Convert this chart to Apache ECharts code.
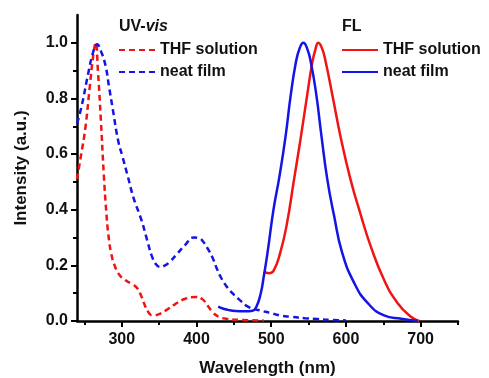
<!DOCTYPE html>
<html>
<head>
<meta charset="utf-8">
<script src="https://cdn.jsdelivr.net/npm/echarts@6/dist/echarts.min.js"></script>
<style>
  html, body { margin: 0; padding: 0; background: #fff; }
  #spectra-chart { width: 489px; height: 378px; }
</style>
</head>
<body>
<div id="spectra-chart"></div>
<script>
// axis ticks
const wavelengthTicks = [300, 400, 500, 600, 700]
const wavelengthMinorTicks = [250, 350, 450, 550, 650, 750]
const intensityTicks = [0, 0.2, 0.4, 0.6, 0.8, 1.0]
const intensityMinorTicks = [0.1, 0.3, 0.5, 0.7, 0.9]

// UV-vis, THF solution
const uvThfWl = [240, 245, 251, 257, 262, 265, 268, 272, 276, 279, 282, 286, 291, 297, 304, 312, 320, 326, 331, 336, 341, 350, 360, 371, 385, 398, 407, 415, 422, 430, 440, 460, 490]
const uvThfInt = [0.51, 0.59, 0.69, 0.84, 0.96, 1.0, 0.9, 0.72, 0.52, 0.40, 0.31, 0.24, 0.195, 0.165, 0.148, 0.135, 0.12, 0.09, 0.055, 0.03, 0.02, 0.025, 0.04, 0.06, 0.08, 0.086, 0.08, 0.055, 0.03, 0.015, 0.008, 0.004, 0.002]

// UV-vis, neat film
const uvFilmWl = [240, 246, 255, 262, 267, 272, 278, 283, 288, 295, 301, 308, 316, 326, 334, 340, 346, 351, 358, 365, 372, 385, 396, 403, 409, 415, 421, 427, 432, 440, 448, 458, 470, 485, 499, 512, 526, 545, 562, 580, 600]
const uvFilmInt = [0.71, 0.77, 0.89, 0.97, 0.995, 0.97, 0.92, 0.84, 0.76, 0.65, 0.59, 0.52, 0.44, 0.365, 0.29, 0.235, 0.203, 0.195, 0.2, 0.215, 0.235, 0.274, 0.30, 0.298, 0.285, 0.26, 0.23, 0.19, 0.16, 0.125, 0.10, 0.075, 0.05, 0.038, 0.029, 0.02, 0.015, 0.01, 0.007, 0.004, 0.002]

// FL, THF solution
const flThfWl = [490, 497, 503, 512, 521, 530, 539, 548, 555, 559, 563, 568, 573, 582, 593, 606, 620, 633, 651, 669, 687, 698]
const flThfInt = [0.178, 0.172, 0.18, 0.245, 0.35, 0.50, 0.65, 0.81, 0.93, 0.975, 1.0, 0.98, 0.93, 0.81, 0.66, 0.51, 0.38, 0.27, 0.148, 0.065, 0.015, 0.0]

// FL, neat film
const flFilmWl = [429, 435, 442, 452, 465, 475, 480, 486, 490, 495, 503, 511, 519, 526, 533, 538, 543, 548, 553, 560, 567, 575, 584, 595, 611, 629, 651, 674, 696]
const flFilmInt = [0.052, 0.045, 0.04, 0.036, 0.035, 0.037, 0.05, 0.10, 0.16, 0.245, 0.40, 0.52, 0.66, 0.81, 0.93, 0.98, 1.0, 0.98, 0.93, 0.82, 0.67, 0.51, 0.38, 0.245, 0.137, 0.065, 0.02, 0.008, 0.0]

const RED = '#f01414'
const BLUE = '#1414e6'
const FONT = 'Liberation Sans'

function pairs(xs, ys) {
    return xs.map((x, i) => [x, ys[i]])
}

function curve(name, xs, ys, color, dashed) {
    return {
        name: name,
        type: 'line',
        data: pairs(xs, ys),
        symbol: 'none',
        smooth: 0.5,
        color: color,
        lineStyle: {
            color: color,
            width: 2.5,
            type: dashed ? [6, 4] : 'solid'
        }
    }
}

const legendBase = {
    orient: 'vertical',
    padding: 0,
    itemWidth: 36,
    itemHeight: 14,
    itemGap: 6,
    selectedMode: false,
    itemStyle: {opacity: 0},
    formatter: name => name.split(': ')[1],
    textStyle: {fontFamily: FONT, fontWeight: 'bold', fontSize: 16, color: '#111'}
}

const chart = echarts.init(document.getElementById('spectra-chart'))
const option = {
    animation: false,
    backgroundColor: '#fff',
    title: [
        {
            text: '{a|UV-}{b|vis}',
            left: 119,
            top: 19,
            padding: 0,
            textStyle: {
                rich: {
                    a: {fontFamily: FONT, fontWeight: 'bold', fontSize: 16, color: '#111'},
                    b: {fontFamily: FONT, fontWeight: 'bold', fontStyle: 'italic', fontSize: 16, color: '#111'}
                }
            }
        },
        {
            text: 'FL',
            left: 342,
            top: 19,
            padding: 0,
            textStyle: {fontFamily: FONT, fontWeight: 'bold', fontSize: 16, color: '#111'}
        }
    ],
    legend: [
        Object.assign({}, legendBase, {
            left: 118,
            top: 42,
            data: ['UV: THF solution', 'UV: neat film']
        }),
        Object.assign({}, legendBase, {
            left: 341,
            top: 42,
            data: ['FL: THF solution', 'FL: neat film']
        })
    ],
    grid: {left: 77, right: 31, top: 15, bottom: 57, containLabel: false, outerBoundsMode: 'none'},
    xAxis: [
        {
            type: 'value',
            min: 240,
            max: 750,
            position: 'bottom',
            name: 'Wavelength (nm)',
            nameLocation: 'middle',
            nameGap: 39,
            nameTextStyle: {fontFamily: FONT, fontWeight: 'bold', fontSize: 17, color: '#111'},
            axisLine: {lineStyle: {color: '#000', width: 2.5}},
            axisTick: {customValues: wavelengthTicks, length: 6, lineStyle: {color: '#000', width: 2}},
            axisLabel: {customValues: wavelengthTicks, margin: 11, fontFamily: FONT, fontWeight: 'bold', fontSize: 16, color: '#111'},
            splitLine: {show: false}
        },
        {
            type: 'value',
            min: 240,
            max: 750,
            position: 'bottom',
            axisLine: {show: false},
            axisTick: {customValues: wavelengthMinorTicks, length: 4, lineStyle: {color: '#000', width: 2}},
            axisLabel: {show: false},
            splitLine: {show: false}
        }
    ],
    yAxis: [
        {
            type: 'value',
            min: 0,
            max: 1.1,
            position: 'left',
            name: 'Intensity (a.u.)',
            nameLocation: 'middle',
            nameGap: 47,
            nameTextStyle: {fontFamily: FONT, fontWeight: 'bold', fontSize: 17, color: '#111'},
            axisLine: {show: true, lineStyle: {color: '#000', width: 2.5}},
            axisTick: {show: true, customValues: intensityTicks, length: 6, lineStyle: {color: '#000', width: 2}},
            axisLabel: {customValues: intensityTicks, margin: 9, formatter: v => v.toFixed(1), fontFamily: FONT, fontWeight: 'bold', fontSize: 16, color: '#111'},
            splitLine: {show: false}
        },
        {
            type: 'value',
            min: 0,
            max: 1.1,
            position: 'left',
            axisLine: {show: false},
            axisTick: {show: true, customValues: intensityMinorTicks, length: 4, lineStyle: {color: '#000', width: 2}},
            axisLabel: {show: false},
            splitLine: {show: false}
        }
    ],
    series: [
        curve('UV: THF solution', uvThfWl, uvThfInt, RED, true),
        curve('UV: neat film', uvFilmWl, uvFilmInt, BLUE, true),
        curve('FL: THF solution', flThfWl, flThfInt, RED, false),
        curve('FL: neat film', flFilmWl, flFilmInt, BLUE, false)
    ]
}
chart.setOption(option)
</script>
</body>
</html>
